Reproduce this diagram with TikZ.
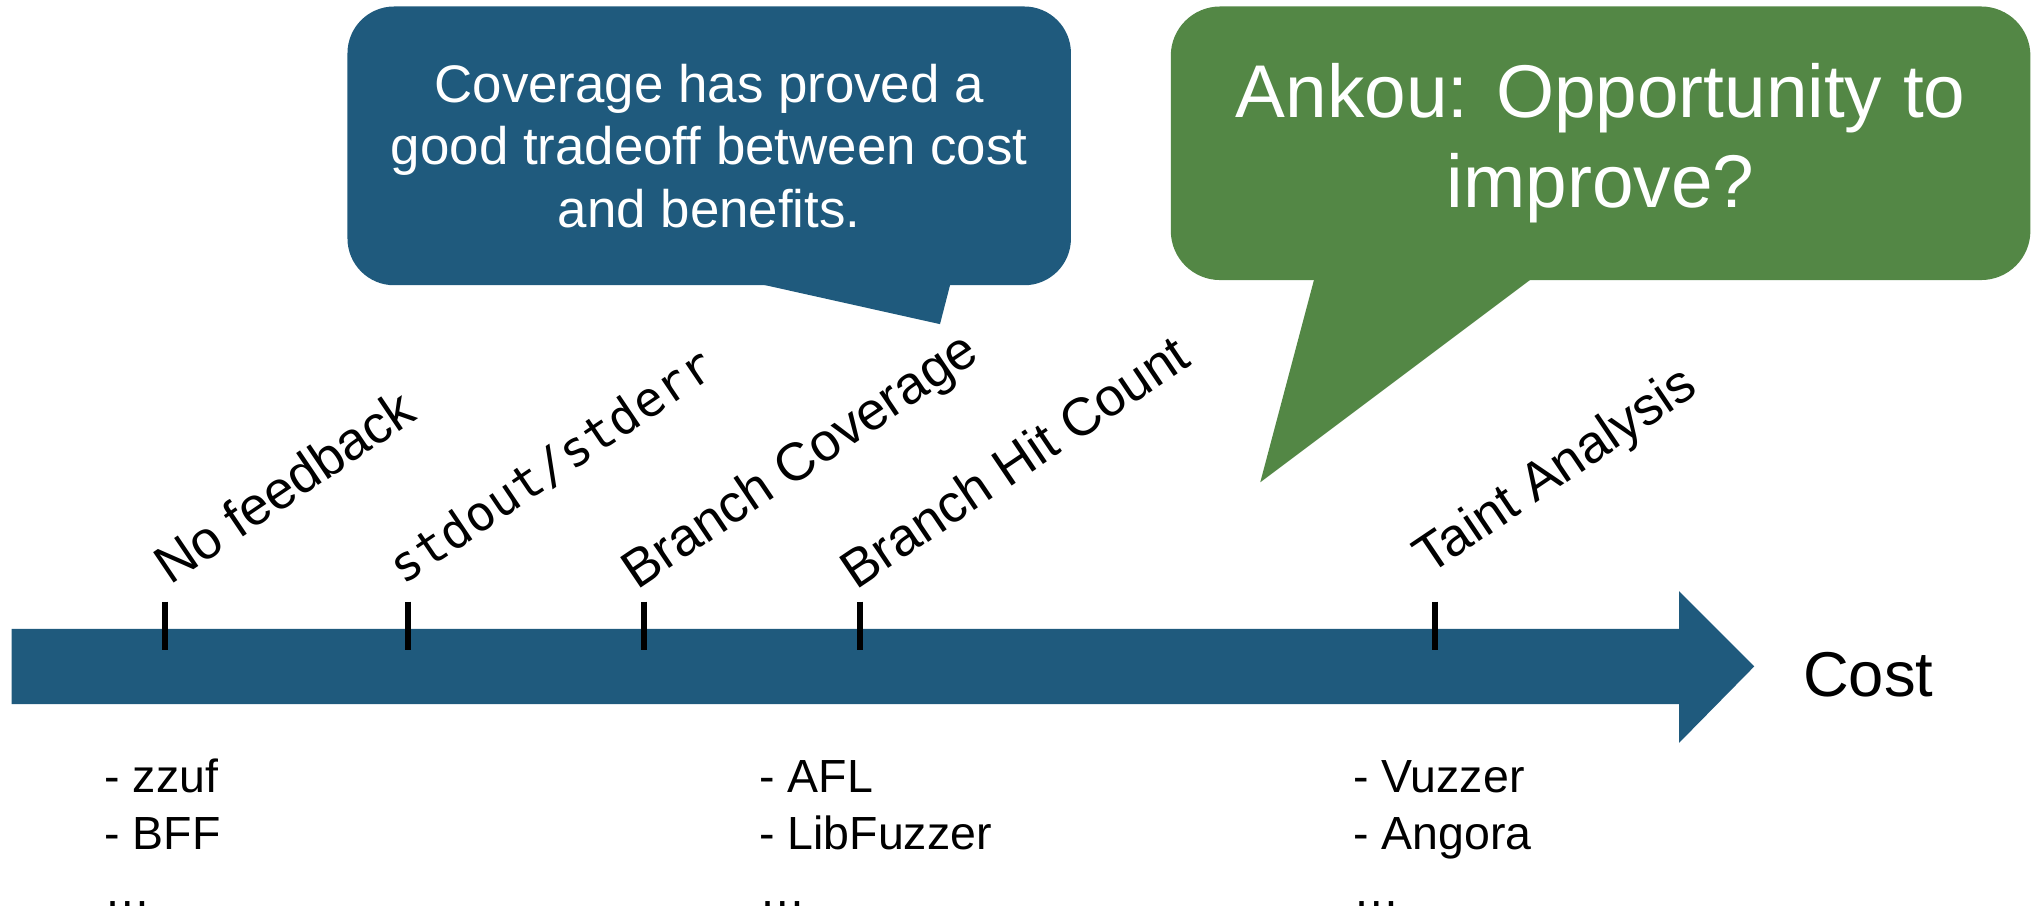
\documentclass[tikz,border=0pt]{standalone}
\usepackage{fontspec}
\setmainfont{Liberation Sans}
\setmonofont{DejaVu Sans Mono}
\usetikzlibrary{positioning}
\definecolor{AxisBlue}{HTML}{1F5A7D}
\definecolor{IdeaGreen}{HTML}{538745}
\tikzset{
    bubble/.style={
        fill=#1,
        rounded corners=3.6mm,
        text=white,
        align=center,
        inner sep=0pt
    },
    bubble/.default=AxisBlue,
    tickmark/.style={
        line width=1.3pt,
        black
    },
    feedback/.style={
        anchor=base west,
        rotate=34,
        inner sep=0pt,
        font=\fontsize{11.7}{14}\selectfont
    },
    tools/.style={
        anchor=base west,
        align=left,
        inner sep=0pt,
        font=\fontsize{10.2}{12.5}\selectfont
    }
}

\begin{document}
\begin{tikzpicture}[x=0.1mm, y=-0.1mm]
        \useasboundingbox (0,0) rectangle (1568,704);

        % Cost axis
        \fill[AxisBlue] (9,485) -- (1295,485) -- (1295,456) -- (1353,514)
            -- (1295,573) -- (1295,543) -- (9,543) -- cycle;
        \node[anchor=base west, inner sep=0pt, font=\fontsize{13.9}{16}\selectfont] (cost) at (1390,537) {Cost};

        % Ticks
        \foreach \x/\name in {127/none, 315/stdio, 497/branch, 663/hits, 1107/taint} {
            \coordinate (t\name) at (\x,464);
            \coordinate (b\name) at (\x,501);
            \draw[tickmark] (t\name) -- (b\name);
        }

        % Feedback kinds
        \node[feedback] (lnone) at (131,452) {No feedback};
        \node[feedback, font=\ttfamily\fontsize{10.6}{13}\selectfont] (lstdio) at (311,452) {stdout/stderr};
        \node[feedback] (lbranch) at (491,456) {Branch Coverage};
        \node[feedback] (lhits) at (660,456) {Branch Hit Count};
        \node[feedback] (ltaint) at (1102,444) {Taint Analysis};

        % Example fuzzers
        \node[tools] (fnone) at (80,699) {- zzuf\\- BFF\\…};
        \node[tools] (fhits) at (585,699) {- AFL\\- LibFuzzer\\…};
        \node[tools] (ftaint) at (1043,699) {- Vuzzer\\- Angora\\…};

        % Callouts
        \fill[AxisBlue] (568,215) -- (725,250) -- (734,215) -- cycle;
        \node[bubble, minimum width=55.8mm, minimum height=21.5mm,
            font=\fontsize{11.6}{13.7}\selectfont] (coverage) at (547,112.5)
            {Coverage has proved a\\good tradeoff between cost\\and benefits.};

        \fill[IdeaGreen] (1015,210) -- (972,372) -- (1188,210) -- cycle;
        \node[bubble=IdeaGreen, minimum width=66.3mm, minimum height=21.1mm,
            rounded corners=3.8mm, font=\fontsize{16.4}{19.9}\selectfont] (ankou) at (1234.5,110.5)
            {Ankou: Opportunity to\\improve?};
    \end{tikzpicture}
\end{document}
